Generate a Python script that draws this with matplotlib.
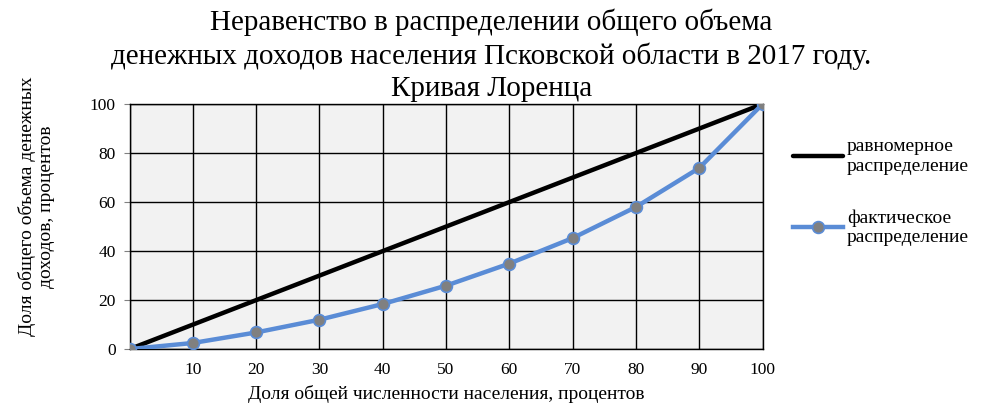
import matplotlib
matplotlib.use("Agg")
import matplotlib.pyplot as plt
from matplotlib.ticker import MultipleLocator

plt.rcParams['font.family'] = ['Liberation Serif', 'DejaVu Serif']

x_share = [0, 10, 20, 30, 40, 50, 60, 70, 80, 90, 100]
uniform = [0, 10, 20, 30, 40, 50, 60, 70, 80, 90, 100]
actual = [0, 2.5, 6.8, 12.0, 18.4, 25.9, 34.9, 45.3, 58.0, 73.9, 100]
x_ticks = [10, 20, 30, 40, 50, 60, 70, 80, 90, 100]
y_ticks = [0, 20, 40, 60, 80, 100]

title = ("Неравенство в распределении общего объема\n"
         "денежных доходов населения Псковской области в 2017 году.\n"
         "Кривая Лоренца")
xlabel = "Доля общей численности населения, процентов"
ylabel = "Доля общего объема денежных\nдоходов, процентов"
lab_uniform = "равномерное\nраспределение"
lab_actual = "фактическое\nраспределение"

fig = plt.figure(figsize=(9.89, 4.05), dpi=100)
ax = fig.add_axes([0.131, 0.138, 0.640, 0.605])
ax.set_facecolor('#F2F2F2')

ax.plot(x_share, uniform, color='black', lw=3.2, label=lab_uniform, zorder=3,
        solid_capstyle='round')
ax.plot(x_share, actual, color='#5A8CD6', lw=3.2, marker='o', markersize=8.5,
        markerfacecolor='#808080', markeredgecolor='#5A8CD6', markeredgewidth=1.2,
        label=lab_actual, zorder=4)

ax.set_xlim(0, 100)
ax.set_ylim(0, 100)
ax.set_xticks(x_ticks)
ax.set_yticks(y_ticks)
ax.xaxis.set_minor_locator(MultipleLocator(10))
ax.grid(True, which='both', axis='x', color='black', lw=1.0, zorder=1)
ax.grid(True, which='major', axis='y', color='black', lw=1.0, zorder=1)
ax.set_axisbelow(True)
for s in ax.spines.values():
    s.set_color('black')
    s.set_linewidth(1.0)
ax.tick_params(axis='x', length=0, labelsize=12.5, pad=9)
ax.tick_params(axis='x', which='minor', length=0)
ax.tick_params(axis='y', length=4, width=0.8, color='#808080', labelsize=12.5, pad=6)

ax.set_xlabel(xlabel, fontsize=14, labelpad=5)
fig.text(0.037, 0.49, ylabel, rotation=90, ha='center', va='center',
         fontsize=14, multialignment='center', linespacing=1.15)

fig.text(0.497, 0.978, title, ha='center', va='top', fontsize=21,
         linespacing=1.3)

leg = ax.legend(loc='center left', bbox_to_anchor=(1.02, 0.64), frameon=False,
                fontsize=14, handlelength=2.6, labelspacing=1.75, handletextpad=0.2)

fig.savefig('out.png', dpi=100)
